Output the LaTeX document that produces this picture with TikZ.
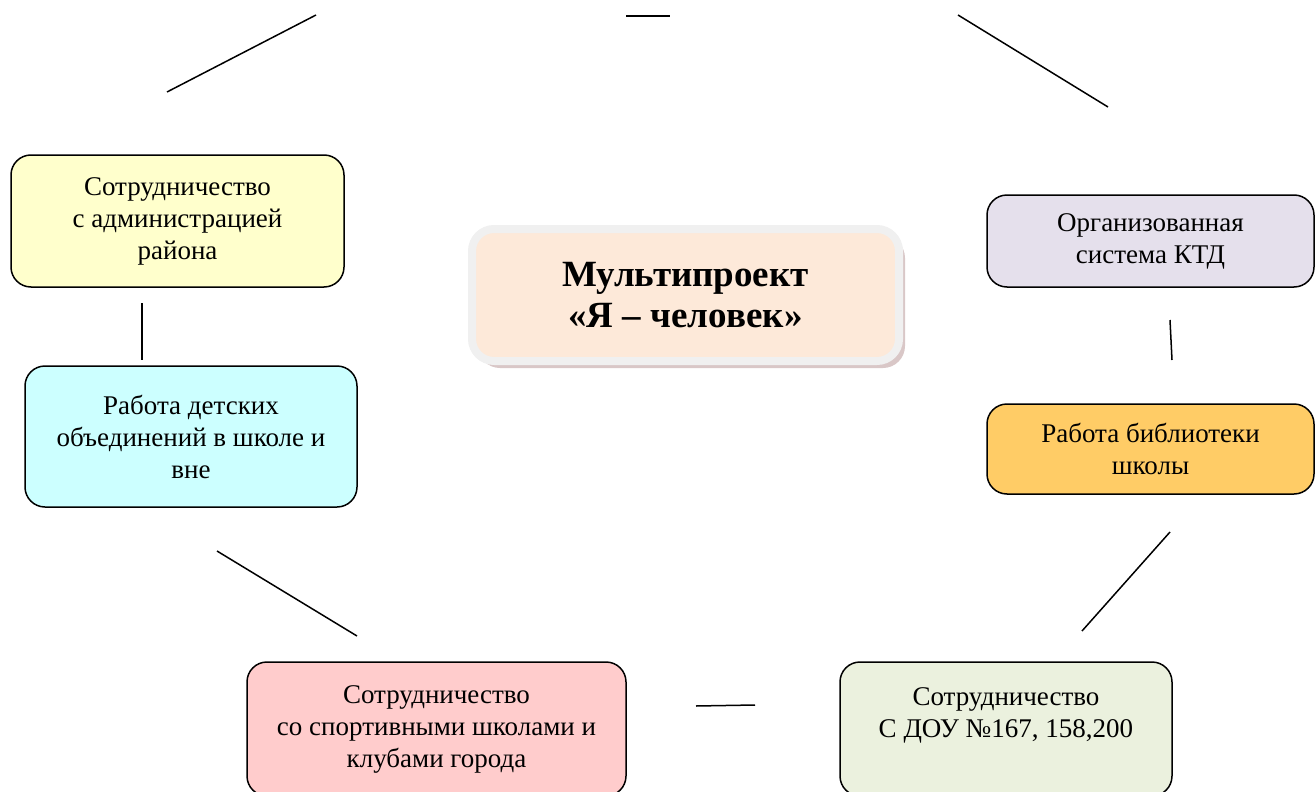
\documentclass[tikz,border=0pt]{standalone}
\usepackage{fontspec}
\setmainfont{Liberation Serif}
\usetikzlibrary{shadows}
\definecolor{admincol}{HTML}{FFFFCC}
\definecolor{kidscol}{HTML}{CCFFFF}
\definecolor{sportcol}{HTML}{FFCCCC}
\definecolor{doucol}{HTML}{EBF1DE}
\definecolor{librarycol}{HTML}{FFCC66}
\definecolor{ktdcol}{HTML}{E5E0EC}
\definecolor{titlecol}{HTML}{FDE9D9}
\definecolor{rimcol}{HTML}{F0F0F0}
\definecolor{shadowcol}{HTML}{B38F8F}
\begin{document}
\begin{tikzpicture}[x=1pt, y=-1pt, box/.style={draw, line width=1.5pt, rounded corners=20pt, align=center, inner sep=0pt, font=\fontsize{27}{32}\selectfont}, link/.style={line width=1.5pt}]
\clip (0,0) rectangle (1315,792);

\node (title) at (685.5,295) [draw=rimcol, line width=8pt, fill=titlecol, rounded corners=22pt, minimum width=427pt, minimum height=132pt, align=center, font=\fontsize{37}{41}\selectfont\bfseries, drop shadow={shadow xshift=6pt, shadow yshift=-7pt, fill=shadowcol}] {Мультипроект\\«Я – человек»};

\node (admin) at (177.5,221) [box, fill=admincol, minimum width=333pt, minimum height=132pt] {Сотрудничество\\с администрацией\\района};
\node (kids) at (191,436.5) [box, fill=kidscol, minimum width=332pt, minimum height=141pt] {Работа детских\\объединений в школе и\\вне};
\node (sport) at (436.5,729) [box, fill=sportcol, minimum width=379pt, minimum height=134pt] {Сотрудничество\\со спортивными школами и\\клубами города};
\node (dou) at (1006,729) [box, fill=doucol, minimum width=332pt, minimum height=134pt] {Сотрудничество\\С ДОУ №167, 158,200\\\mbox{}};
\node (library) at (1150.5,449) [box, fill=librarycol, minimum width=327pt, minimum height=90pt] {Работа библиотеки\\школы};
\node (ktd) at (1150.5,241) [box, fill=ktdcol, minimum width=327pt, minimum height=92pt] {Организованная\\система КТД};

\coordinate (topleftA) at (167,92);
\coordinate (topleftB) at (316,15);
\coordinate (topA) at (626,16);
\coordinate (topB) at (670,16);
\coordinate (toprightA) at (958,15);
\coordinate (toprightB) at (1108,107);
\coordinate (leftA) at (142,303);
\coordinate (leftB) at (142,360);
\coordinate (rightA) at (1170,320);
\coordinate (rightB) at (1172,360);
\coordinate (lowleftA) at (217,551);
\coordinate (lowleftB) at (357,636);
\coordinate (lowrightA) at (1170,532);
\coordinate (lowrightB) at (1082,631);
\coordinate (bottomA) at (696,706);
\coordinate (bottomB) at (755,705);

\draw[link] (topleftA) to (topleftB);
\draw[link] (topA) to (topB);
\draw[link] (toprightA) to (toprightB);
\draw[link] (leftA) to (leftB);
\draw[link] (rightA) to (rightB);
\draw[link] (lowleftA) to (lowleftB);
\draw[link] (lowrightA) to (lowrightB);
\draw[link] (bottomA) to (bottomB);
\end{tikzpicture}
\end{document}
